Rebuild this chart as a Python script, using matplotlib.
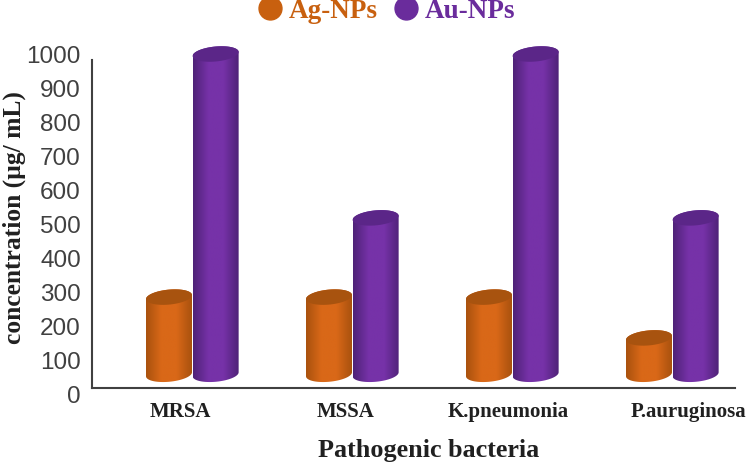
import matplotlib
matplotlib.use('Agg')
import matplotlib.pyplot as plt
import numpy as np
from matplotlib.colors import LinearSegmentedColormap
from matplotlib.lines import Line2D
from matplotlib.patches import Polygon

# values
bacteria = ['MRSA', 'MSSA', 'K.pneumonia', 'P.auruginosa']
ag_nps = [285, 285, 285, 165]
au_nps = [1000, 518, 1000, 518]
y_ticks = [0, 100, 200, 300, 400, 500, 600, 700, 800, 900, 1000]

SERIF = 'Liberation Serif'
SANS = 'Liberation Sans'
ORANGE = '#c8600f'
PURPLE = '#6a2c9c'

# layout: 1 x unit = 160 px, 1 y unit = 0.34 px
BASE = 58          # cylinders float a little above the axis line
BAR_W = 46 / 160
ELL_H = 7.5 / 0.34
TILT = 2.0 / 0.34
label_shift = [-0.075, -0.0375, -0.025, 0.1]

fig = plt.figure(figsize=(7.49, 4.65), dpi=100)
ax = fig.add_axes([0, 0, 1, 1])


def ellipse(cx, cy, t):
    return np.column_stack([cx + BAR_W / 2 * np.cos(t),
                            cy + ELL_H * np.sin(t) + TILT * np.cos(t)])


def cylinder(cx, value, edge, mid, top):
    # side of the cylinder: lower half of base, upper half of top
    t1 = np.linspace(np.pi, 2 * np.pi, 40)
    t2 = np.linspace(0, np.pi, 40)
    outline = np.vstack([ellipse(cx, BASE, t1), ellipse(cx, value, t2)])
    cmap = LinearSegmentedColormap.from_list('c', [edge, mid, mid, edge])
    im = ax.imshow(np.linspace(0, 1, 64).reshape(1, -1), cmap=cmap, aspect='auto',
                   extent=[cx - BAR_W / 2, cx + BAR_W / 2, BASE - 40, value + 40],
                   zorder=2, interpolation='bilinear')
    clip = Polygon(outline, transform=ax.transData, fc='none', ec='none')
    ax.add_patch(clip)
    im.set_clip_path(clip)
    t = np.linspace(0, 2 * np.pi, 80)
    ax.add_patch(Polygon(ellipse(cx, value, t), fc=top, ec='none', zorder=3))


x = np.arange(len(bacteria))
for i in x:
    cylinder(i - BAR_W / 2, ag_nps[i], '#aa520e', '#d96818', '#a8530f')
    cylinder(i + BAR_W / 2 + 0.004, au_nps[i], '#4f2278', '#7632a8', '#5b2688')

ax.set_xlim(-192 / 160, (749 - 192) / 160)
ax.set_ylim(-71 / 0.34, 394 / 0.34)

for s in ['top', 'right']:
    ax.spines[s].set_visible(False)
for s in ['left', 'bottom']:
    ax.spines[s].set_color('#404040')
    ax.spines[s].set_linewidth(1.5)
ax.spines['left'].set_position(('data', -100 / 160))
ax.spines['left'].set_bounds(18, 982)
ax.spines['bottom'].set_position(('data', 18))
ax.spines['bottom'].set_bounds(-100 / 160, 543 / 160)

ax.set_yticks(y_ticks)
ax.set_yticklabels([str(v) for v in y_ticks], fontfamily=SANS, fontsize=17.5,
                   color='#404040')
ax.tick_params(axis='y', length=0, pad=8)
ax.set_xticks(x + np.array(label_shift))
ax.set_xticklabels(bacteria, fontfamily=SERIF, fontweight='bold', fontsize=15,
                   color='#202020')
ax.tick_params(axis='x', length=0, pad=10)

ax.text(14 / 749, 1 - 218 / 465, 'concentration (µg/ mL)', transform=ax.transAxes,
        rotation=90, ha='center', va='center', fontfamily=SERIF,
        fontweight='bold', fontsize=18.4, color='#202020')
ax.text(429 / 749, 1 - 450 / 465, 'Pathogenic bacteria', transform=ax.transAxes,
        ha='center', va='center', fontfamily=SERIF, fontweight='bold',
        fontsize=18.8, color='#202020')

handles = [Line2D([], [], ls='none', marker='o', ms=16.5, color=ORANGE),
           Line2D([], [], ls='none', marker='o', ms=16.5, color=PURPLE)]
leg = ax.legend(handles, ['Ag-NPs', 'Au-NPs'], ncol=2, frameon=False,
                loc='center', bbox_to_anchor=(386 / 749, 1 - 11 / 465),
                prop={'family': SERIF, 'weight': 'bold', 'size': 19.5},
                handlelength=1, handletextpad=0.2, columnspacing=0.55,
                labelcolor='linecolor', borderpad=0, borderaxespad=0)

fig.savefig('out.png', dpi=100)
